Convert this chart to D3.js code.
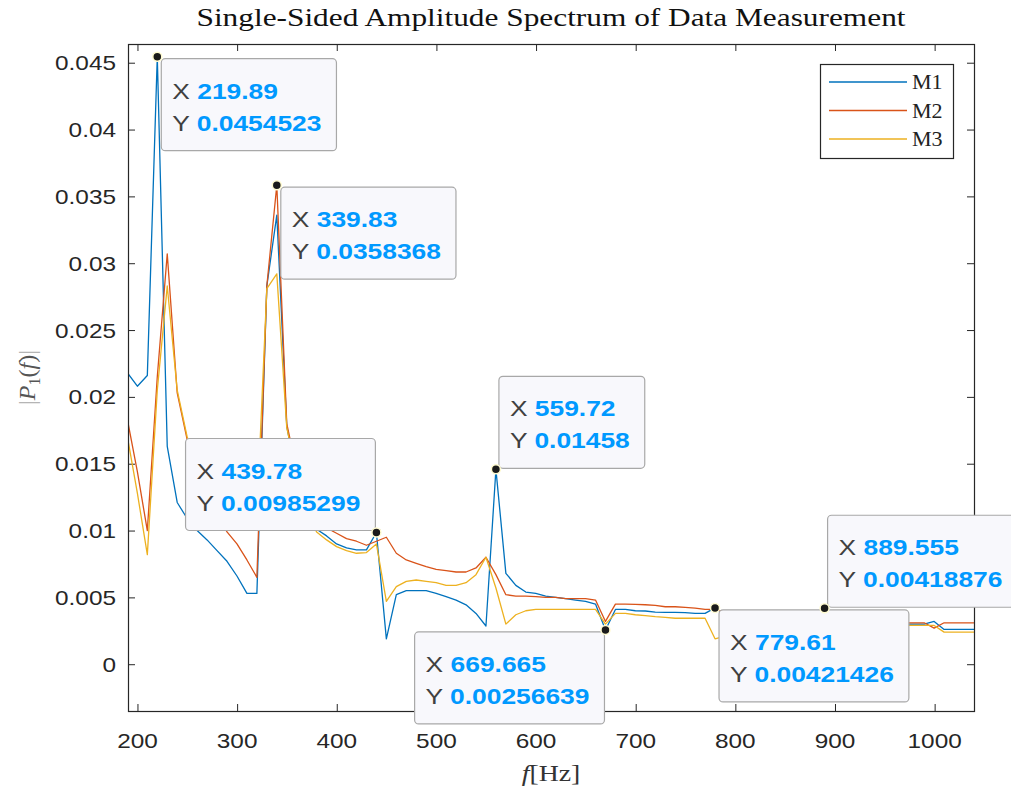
<!DOCTYPE html>
<html>
<head>
<meta charset="utf-8">
<script src="https://cdn.jsdelivr.net/npm/d3@7"></script>
<style>
  body { margin: 0; background: #fff; }
  svg { display: block; }
</style>
</head>
<body>
<svg id="chart" width="1011" height="793"></svg>
<script>
// FFT bin frequencies (Hz)
const freq = [189.905, 199.9, 209.895, 219.89, 229.885, 239.88, 249.875, 259.87, 269.865, 279.86,
  289.855, 299.85, 309.845, 319.84, 329.835, 339.83, 349.825, 359.82, 369.815, 379.81,
  389.805, 399.8, 409.795, 419.79, 429.785, 439.78, 449.775, 459.77, 469.765, 479.76,
  489.755, 499.75, 509.745, 519.74, 529.735, 539.73, 549.725, 559.72, 569.715, 579.71,
  589.705, 599.7, 609.695, 619.69, 629.685, 639.68, 649.675, 659.67, 669.665, 679.66,
  689.655, 699.65, 709.645, 719.64, 729.635, 739.63, 749.625, 759.62, 769.615, 779.61,
  789.605, 799.6, 809.595, 819.59, 829.585, 839.58, 849.575, 859.57, 869.565, 879.56,
  889.555, 899.55, 909.545, 919.54, 929.535, 939.53, 949.525, 959.52, 969.515, 979.51,
  989.505, 999.5, 1009.495, 1019.49, 1029.485, 1039.48];

// single-sided amplitude |P1(f)| per measurement
const m1 = [0.0218, 0.0208, 0.0216, 0.0454523, 0.0163, 0.0121, 0.0109, 0.0100, 0.0093, 0.0085,
  0.0077, 0.0066, 0.0053, 0.0053, 0.0283, 0.0336, 0.0178, 0.0140, 0.0112, 0.0101,
  0.0096, 0.0090, 0.0087, 0.00855, 0.00855, 0.00985299, 0.0019, 0.0052, 0.0055, 0.0055,
  0.0055, 0.0053, 0.00506, 0.0048, 0.00444, 0.0038, 0.00286, 0.01458, 0.0068, 0.0059,
  0.0054, 0.0053, 0.0051, 0.0050, 0.0049, 0.0048, 0.0047, 0.0045, 0.00256639, 0.0041,
  0.0041, 0.0040, 0.00398, 0.0039, 0.00388, 0.00388, 0.00386, 0.0038, 0.0038, 0.00421426,
  0.0037, 0.0036, 0.0036, 0.0035, 0.0035, 0.0034, 0.0034, 0.0034, 0.0033, 0.0033,
  0.00418876, 0.0032, 0.0032, 0.0031, 0.0031, 0.0031, 0.0030, 0.0030, 0.0030, 0.0030,
  0.0030, 0.0032, 0.0026, 0.0026, 0.0026, 0.0026];

const m2 = [0.0183, 0.0144, 0.0100, 0.0215, 0.0307, 0.0203, 0.0168, 0.0142, 0.0126, 0.0113,
  0.0099, 0.0090, 0.0078, 0.0065, 0.0283, 0.0358368, 0.0180, 0.0145, 0.0118, 0.0106,
  0.0102, 0.0098, 0.0094, 0.0092, 0.0089, 0.0092, 0.0095, 0.0083, 0.0078, 0.00755,
  0.0073, 0.0071, 0.0070, 0.0069, 0.0069, 0.0072, 0.0080, 0.0067, 0.0052, 0.0051,
  0.0051, 0.00505, 0.0050, 0.0050, 0.0049, 0.0049, 0.0049, 0.0048, 0.0032, 0.0045,
  0.0045, 0.00448, 0.00445, 0.0044, 0.0043, 0.0043, 0.00425, 0.0042, 0.0041, 0.0041,
  0.0039, 0.0038, 0.0037, 0.0036, 0.0036, 0.0035, 0.0035, 0.0034, 0.0034, 0.0034,
  0.0033, 0.0033, 0.0033, 0.0032, 0.0032, 0.0032, 0.0031, 0.0031, 0.0031, 0.0031,
  0.0031, 0.0027, 0.0031, 0.0031, 0.0031, 0.0031];

const m3 = [0.0170, 0.0128, 0.0082, 0.0205, 0.0283, 0.0205, 0.0170, 0.0152, 0.0140, 0.0131,
  0.0124, 0.0119, 0.0115, 0.0112, 0.0281, 0.0292, 0.0177, 0.0142, 0.0112, 0.0099,
  0.0093, 0.0088, 0.0085, 0.0083, 0.00835, 0.0090, 0.0047, 0.0058, 0.0062, 0.0063,
  0.0062, 0.0061, 0.0059, 0.0059, 0.0061, 0.0067, 0.0080, 0.0057, 0.0030, 0.0037,
  0.0040, 0.0041, 0.0041, 0.0041, 0.0041, 0.0041, 0.0041, 0.0041, 0.0030, 0.0038,
  0.0038, 0.0037, 0.00364, 0.00356, 0.0035, 0.00344, 0.00344, 0.00344, 0.00344, 0.0019,
  0.0021, 0.0022, 0.0023, 0.0024, 0.0025, 0.0025, 0.0026, 0.0026, 0.0027, 0.0027,
  0.0027, 0.0028, 0.0028, 0.0028, 0.0028, 0.0028, 0.0028, 0.0029, 0.0029, 0.0029,
  0.0029, 0.0029, 0.0024, 0.0024, 0.0024, 0.0024];

const seriesNames = ["M1", "M2", "M3"];
const seriesColors = ["#0072BD", "#D95319", "#EDB120"];

const xTicks = [200, 300, 400, 500, 600, 700, 800, 900, 1000];
const yTicks = [0, 0.005, 0.01, 0.015, 0.02, 0.025, 0.03, 0.035, 0.04, 0.045];
const yTickLabels = ["0", "0.005", "0.01", "0.015", "0.02", "0.025", "0.03", "0.035", "0.04", "0.045"];

// data tips: series index, frequency, amplitude, box direction
const tipSeries = [0, 1, 0, 0, 0, 0, 0];
const tipFreq = [219.89, 339.83, 439.78, 559.72, 669.665, 779.61, 889.555];
const tipValue = [0.0454523, 0.0358368, 0.00985299, 0.01458, 0.00256639, 0.00421426, 0.00418876];
const tipDir = ["se", "se", "nw", "ne", "sw", "se", "ne"];

const titleText = "Single-Sided Amplitude Spectrum of Data Measurement";

// ---- layout ----
const svg = d3.select("#chart");
const plot = { left: 128, top: 44, right: 974, bottom: 711 };
const SX = 1.16;     // horizontal text stretch for axis labels
const TIP_SX = 1.2;  // horizontal text stretch for data tips

const x = d3.scaleLinear().domain([190.5, 1039.5]).range([plot.left, plot.right]);
const y = d3.scaleLinear().domain([-0.0035, 0.0464]).range([plot.bottom, plot.top]);

const axisColor = "#262626";

// text placed in a horizontally stretched group
function stretchedText(parent, px, py, anchor, sx) {
  const g = parent.append("g").attr("transform", `translate(${px},${py}) scale(${sx},1)`);
  return g.append("text").attr("text-anchor", anchor);
}

svg.append("defs").append("clipPath").attr("id", "plotClip")
  .append("rect")
  .attr("x", plot.left).attr("y", plot.top)
  .attr("width", plot.right - plot.left).attr("height", plot.bottom - plot.top);

// axes (ticks point inward)
const tickLen = 7;
const gx = svg.append("g").attr("transform", `translate(0,${plot.bottom})`)
  .call(d3.axisBottom(x).tickValues(xTicks).tickSizeInner(-tickLen).tickSizeOuter(0).tickFormat(""));
const gxTop = svg.append("g").attr("transform", `translate(0,${plot.top})`)
  .call(d3.axisTop(x).tickValues(xTicks).tickSizeInner(-tickLen).tickSizeOuter(0).tickFormat(""));
const gy = svg.append("g").attr("transform", `translate(${plot.left},0)`)
  .call(d3.axisLeft(y).tickValues(yTicks).tickSizeInner(-tickLen).tickSizeOuter(0).tickFormat(""));
const gyRight = svg.append("g").attr("transform", `translate(${plot.right},0)`)
  .call(d3.axisRight(y).tickValues(yTicks).tickSizeInner(-tickLen).tickSizeOuter(0).tickFormat(""));
[gx, gxTop, gy, gyRight].forEach(g => {
  g.select(".domain").remove();
  g.selectAll(".tick line").attr("stroke", axisColor).attr("stroke-width", 1);
});

// series lines
const lineGen = d3.line().x((d, i) => x(freq[i])).y(d => y(d));
const lines = svg.append("g").attr("clip-path", "url(#plotClip)");
[m1, m2, m3].forEach((s, i) => {
  lines.append("path")
    .datum(s)
    .attr("d", lineGen)
    .attr("fill", "none")
    .attr("stroke", seriesColors[i])
    .attr("stroke-width", 1.3)
    .attr("stroke-linejoin", "round");
});

// axes box
svg.append("rect")
  .attr("x", plot.left + 0.5).attr("y", plot.top + 0.5)
  .attr("width", plot.right - plot.left).attr("height", plot.bottom - plot.top)
  .attr("fill", "none").attr("stroke", axisColor).attr("stroke-width", 1.2);

// tick labels
const tickFont = "'Liberation Sans', Arial, Helvetica, sans-serif";
xTicks.forEach(t => {
  stretchedText(svg, x(t), plot.bottom + 37, "middle", SX)
    .attr("font-family", tickFont).attr("font-size", 21).attr("fill", axisColor)
    .text(t);
});
yTicks.forEach((t, i) => {
  stretchedText(svg, plot.left - 12, y(t) + 7.5, "end", SX)
    .attr("font-family", tickFont).attr("font-size", 21).attr("fill", axisColor)
    .text(yTickLabels[i]);
});

// title
const serif = "'Liberation Serif', 'Times New Roman', serif";
svg.append("text")
  .attr("x", (plot.left + plot.right) / 2).attr("y", 26)
  .attr("text-anchor", "middle")
  .attr("font-family", serif).attr("font-size", 25).attr("fill", "#111")
  .attr("textLength", 709).attr("lengthAdjust", "spacingAndGlyphs")
  .text(titleText);

// x label: f[Hz]
const xl = stretchedText(svg, (plot.left + plot.right) / 2, 781, "middle", SX)
  .attr("font-family", serif).attr("font-size", 24).attr("fill", "#333");
xl.append("tspan").attr("font-style", "italic").text("f");
xl.append("tspan").text("[Hz]");

// y label: |P1(f)|
const ylg = svg.append("g").attr("transform", `translate(35,${(plot.top + plot.bottom) / 2}) rotate(-90)`);
const yl = ylg.append("text").attr("text-anchor", "middle")
  .attr("font-family", serif).attr("font-size", 24).attr("fill", "#555");
yl.append("tspan").attr("fill", "#b5b5b5").text("|");
yl.append("tspan").attr("font-style", "italic").text("P");
yl.append("tspan").attr("font-size", 16).attr("dy", 5).text("1");
yl.append("tspan").attr("dy", -5).text("(");
yl.append("tspan").attr("font-style", "italic").text("f");
yl.append("tspan").text(")");
yl.append("tspan").attr("fill", "#b5b5b5").text("|");

// legend
const legend = svg.append("g");
legend.append("rect")
  .attr("x", 820.5).attr("y", 64.5).attr("width", 133).attr("height", 94)
  .attr("fill", "#fff").attr("stroke", axisColor).attr("stroke-width", 1.2);
seriesNames.forEach((name, i) => {
  const ly = 82 + i * 28.5;
  legend.append("line")
    .attr("x1", 829).attr("x2", 907).attr("y1", ly).attr("y2", ly)
    .attr("stroke", seriesColors[i]).attr("stroke-width", 1.3);
  stretchedText(legend, 912, ly + 7, "start", 1.05)
    .attr("font-family", serif).attr("font-size", 21).attr("fill", "#222")
    .text(name);
});

// data tips
const tipFont = "'Liberation Sans', Arial, Helvetica, sans-serif";
const tips = svg.append("g");
tipFreq.forEach((f, i) => {
  const px = x(f), py = y(tipValue[i]);
  const g = tips.append("g");
  const rect = g.append("rect")
    .attr("rx", 4).attr("ry", 4)
    .attr("fill", "#f8f8fc").attr("stroke", "#a8a8a8").attr("stroke-width", 1.2);
  const rows = [["X", String(f)], ["Y", String(tipValue[i])]];
  const texts = rows.map(r => {
    const t = stretchedText(g, 0, 0, "start", TIP_SX).attr("font-family", tipFont).attr("font-size", 22);
    t.append("tspan").attr("fill", "#404040").text(r[0] + " ");
    t.append("tspan").attr("fill", "#0099ff").attr("font-weight", "bold").text(r[1]);
    return t;
  });
  const w = 11 + d3.max(texts, t => t.node().getComputedTextLength()) * TIP_SX + 15;
  const h = 92;
  let left, top;
  const d = tipDir[i];
  if (d === "se") { left = px + 4; top = py + 2; }
  else if (d === "nw") { left = px - 1 - w; top = py - 2 - h; }
  else if (d === "ne") { left = px + 3; top = py - 1 - h; }
  else { left = px - 1 - w; top = py + 2; }
  rect.attr("x", left).attr("y", top).attr("width", w).attr("height", h);
  texts.forEach((t, k) => {
    d3.select(t.node().parentNode)
      .attr("transform", `translate(${left + 11},${top + 40 + k * 32}) scale(${TIP_SX},1)`);
  });
  tips.append("circle")
    .attr("cx", px).attr("cy", py).attr("r", 4.5)
    .attr("fill", "#1a1a1a").attr("stroke", "#fffbd0").attr("stroke-width", 1.5);
});
</script>
</body>
</html>
